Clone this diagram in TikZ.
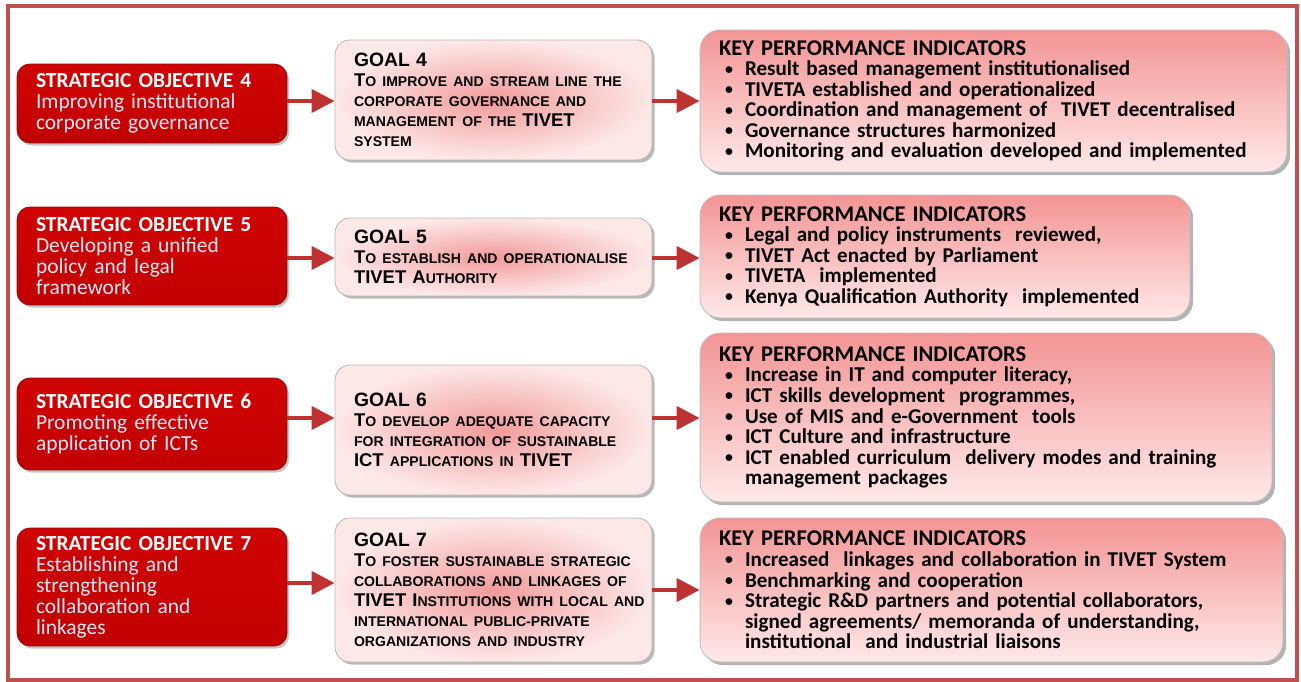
\documentclass[tikz,border=0pt]{standalone}
\usepackage{fontspec}
\usepackage{graphicx}
\setmainfont{Carlito}
\newfontfamily\goalfont{Liberation Sans}
\usetikzlibrary{positioning, shadows, arrows.meta}

\definecolor{framered}{HTML}{C0504D}
\definecolor{objtop}{HTML}{D00404}
\definecolor{objbot}{HTML}{C20000}
\definecolor{objedge}{HTML}{8E0E0E}
\definecolor{objtext}{HTML}{DDE8F6}
\definecolor{goalin}{HTML}{F29A9A}
\definecolor{goalout}{HTML}{FDE8E8}
\definecolor{kpitop}{HTML}{F39494}
\definecolor{kpibot}{HTML}{FFE9E9}
\definecolor{linkred}{HTML}{BE3232}

\newcommand\objtitle[1]{{\color{white}\bfseries #1}}
\newcommand\goalhead[1]{{\fontsize{11}{13}\selectfont #1}}
\newcommand\smc[1]{{\fontsize{8}{11.4}\selectfont #1}}
\newcommand\kpihead{{\fontsize{12.8}{13}\selectfont KEY PERFORMANCE INDICATORS}}
\newcommand\kb{\hspace*{0.12cm}\makebox[0.4cm][l]{\raisebox{0.15ex}{\scalebox{0.75}{\textbullet}}}}
\newcommand\kc{\hspace*{0.52cm}}

\tikzset{
  objbox/.style={rectangle, rounded corners=0.26cm, draw=objedge, line width=0.5pt,
    top color=objtop, bottom color=objbot, text=objtext, align=left,
    inner xsep=0.38cm, text width=4.64cm, font=\fontsize{12.2}{12}\selectfont,
    drop shadow={shadow xshift=1.2pt, shadow yshift=-1.5pt, opacity=0.45}},
  goalbox/.style={rectangle, rounded corners=0.3cm, draw=gray!55, line width=0.5pt,
    inner color=goalin, outer color=goalout, align=left,
    inner xsep=0.38cm, text width=5.58cm, font=\goalfont\bfseries\fontsize{10.5}{11.4}\selectfont,
    drop shadow={shadow xshift=1.5pt, shadow yshift=-1.5pt, opacity=0.55}},
  kpibox/.style={rectangle, rounded corners=0.4cm, draw=gray!50, line width=0.5pt,
    top color=kpitop, bottom color=kpibot, align=left,
    inner xsep=0.38cm, font=\bfseries\fontsize{12}{11.7}\selectfont,
    drop shadow={shadow xshift=1.8pt, shadow yshift=-1.8pt, opacity=0.6}},
  link/.style={draw=linkred, line width=2.3pt, -{Triangle[length=0.46cm, width=0.46cm]}},
  frame/.style={draw=framered, line width=2.2pt}
}

\begin{document}
\begin{tikzpicture}[x=0.02cm, y=-0.02cm]
\useasboundingbox (0,0) rectangle (1301,682);
\draw[frame] (8,6) rectangle (1297,680);

% strategic objectives
\node[objbox, minimum height=1.58cm] (o4) at (152,103.5)
  {\objtitle{STRATEGIC OBJECTIVE 4}\\ Improving institutional\\ corporate governance};
\node[objbox, minimum height=1.96cm] (o5) at (152,256)
  {\objtitle{STRATEGIC OBJECTIVE 5}\\ Developing a unified\\ policy and legal\\ framework};
\node[objbox, minimum height=1.84cm] (o6) at (152,424)
  {\objtitle{STRATEGIC OBJECTIVE 6}\\ Promoting effective\\ application of ICTs};
\node[objbox, minimum height=2.36cm] (o7) at (152,587)
  {\objtitle{STRATEGIC OBJECTIVE 7}\\ Establishing and\\ strengthening\\ collaboration and\\ linkages};

% goals
\node[goalbox, minimum height=2.4cm] (g4) at (493.5,100)
  {\goalhead{GOAL 4}\\ T\smc{O IMPROVE AND STREAM LINE THE}\\
   \smc{CORPORATE GOVERNANCE AND}\\ \smc{MANAGEMENT OF THE} TIVET\\ \smc{SYSTEM}};
\node[goalbox, minimum height=1.56cm] (g5) at (493.5,257)
  {\goalhead{GOAL 5}\\ T\smc{O ESTABLISH AND OPERATIONALISE}\\ TIVET A\smc{UTHORITY}};
\node[goalbox, minimum height=2.6cm] (g6) at (493.5,430)
  {\goalhead{GOAL 6}\\ T\smc{O DEVELOP ADEQUATE CAPACITY}\\
   \smc{FOR INTEGRATION OF SUSTAINABLE}\\ ICT \smc{APPLICATIONS IN} TIVET};
\node[goalbox, minimum height=2.88cm] (g7) at (493.5,590)
  {\goalhead{GOAL 7}\\ \mbox{T\smc{O FOSTER SUSTAINABLE STRATEGIC}}\\
   \mbox{\smc{COLLABORATIONS AND LINKAGES OF}}\\ \mbox{TIVET I\smc{NSTITUTIONS WITH LOCAL AND}}\\
   \smc{INTERNATIONAL PUBLIC-PRIVATE}\\ \smc{ORGANIZATIONS AND INDUSTRY}};

% key performance indicators
\node[kpibox, text width=10.98cm, minimum height=2.84cm] (k4) at (993.5,101)
  {\kpihead\\
   \kb Result based management institutionalised\\
   \kb TIVETA established and operationalized\\
   \kb Coordination and management of \ TIVET decentralised\\
   \kb Governance structures harmonized\\
   \kb Monitoring and evaluation developed and implemented};
\node[kpibox, text width=9.04cm, minimum height=2.46cm] (k5) at (945,256.5)
  {\kpihead\\
   \kb Legal and policy instruments \ reviewed,\\
   \kb TIVET Act enacted by Parliament\\
   \kb TIVETA \ implemented\\
   \kb Kenya Qualification Authority \ implemented};
\node[kpibox, text width=10.68cm, minimum height=3.38cm] (k6) at (986,417.5)
  {\kpihead\\
   \kb Increase in IT and computer literacy,\\
   \kb ICT skills development \ programmes,\\
   \kb Use of MIS and e-Government \ tools\\
   \kb ICT Culture and infrastructure\\
   \kb ICT enabled curriculum \ delivery modes and training\\
   \kc management packages};
\node[kpibox, text width=10.9cm, minimum height=2.88cm] (k7) at (991.5,590)
  {\kpihead\\
   \kb Increased \ linkages and collaboration in TIVET System\\
   \kb Benchmarking and cooperation\\
   \kb Strategic R\&D partners and potential collaborators,\\
   \kc signed agreements/ memoranda of understanding,\\
   \kc institutional \ and industrial liaisons};

% links
\draw[link] (o4.east |- 0,101) -- (g4.west |- 0,101);
\draw[link] (g4.east |- 0,101) -- (k4.west |- 0,101);
\draw[link] (o5.east |- 0,258) -- (g5.west |- 0,258);
\draw[link] (g5.east |- 0,258) -- (k5.west |- 0,258);
\draw[link] (o6.east |- 0,418) -- (g6.west |- 0,418);
\draw[link] (g6.east |- 0,418) -- (k6.west |- 0,418);
\draw[link] (o7.east |- 0,583) -- (g7.west |- 0,583);
\draw[link] (g7.east |- 0,590) -- (k7.west |- 0,590);
\end{tikzpicture}
\end{document}
